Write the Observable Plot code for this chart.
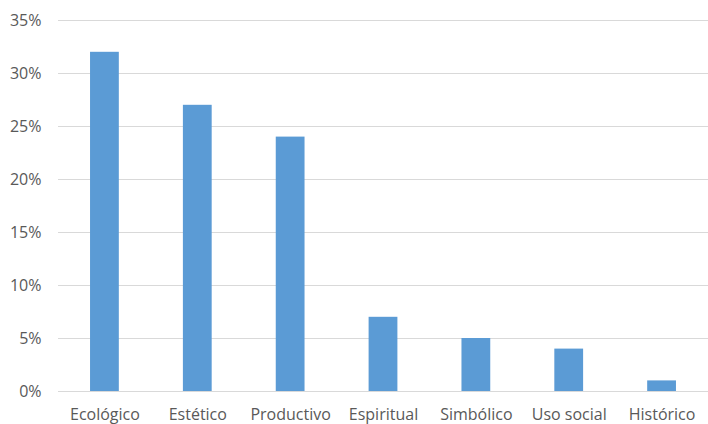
<!DOCTYPE html>
<html>
<head>
<meta charset="utf-8">
<script src="https://cdn.jsdelivr.net/npm/d3@7"></script>
<script src="https://cdn.jsdelivr.net/npm/@observablehq/plot@0.6"></script>
<style>
  html, body { margin: 0; padding: 0; background: #fff; }
</style>
</head>
<body>
<div id="chart"></div>
<script>
const categories = ["Ecológico", "Estético", "Productivo", "Espiritual", "Simbólico", "Uso social", "Histórico"];
const values = [0.32, 0.27, 0.24, 0.07, 0.05, 0.04, 0.01];
const yTicks = [0, 0.05, 0.10, 0.15, 0.20, 0.25, 0.30, 0.35];

const data = categories.map((c, i) => ({category: c, value: values[i]}));

const chart = Plot.plot({
  width: 708,
  height: 424,
  marginLeft: 58,
  marginRight: 0,
  marginTop: 20,
  marginBottom: 33,
  style: {fontFamily: "'Open Sans', sans-serif", fontSize: "16px", color: "#595959", background: "#fff"},
  x: {domain: categories, paddingInner: 0.69, paddingOuter: 0.345, round: false, label: null, tickSize: 0, tickPadding: 17},
  y: {domain: [0, 0.35], ticks: yTicks, tickFormat: d => Math.round(d * 100) + "%", label: null, tickSize: 0, tickPadding: 17},
  marks: [
    Plot.ruleY(yTicks, {stroke: "#d9d9d9", strokeWidth: 1}),
    Plot.barY(data, {x: "category", y: "value", fill: "#5b9bd5"})
  ]
});
document.getElementById("chart").appendChild(chart);
</script>
</body>
</html>
